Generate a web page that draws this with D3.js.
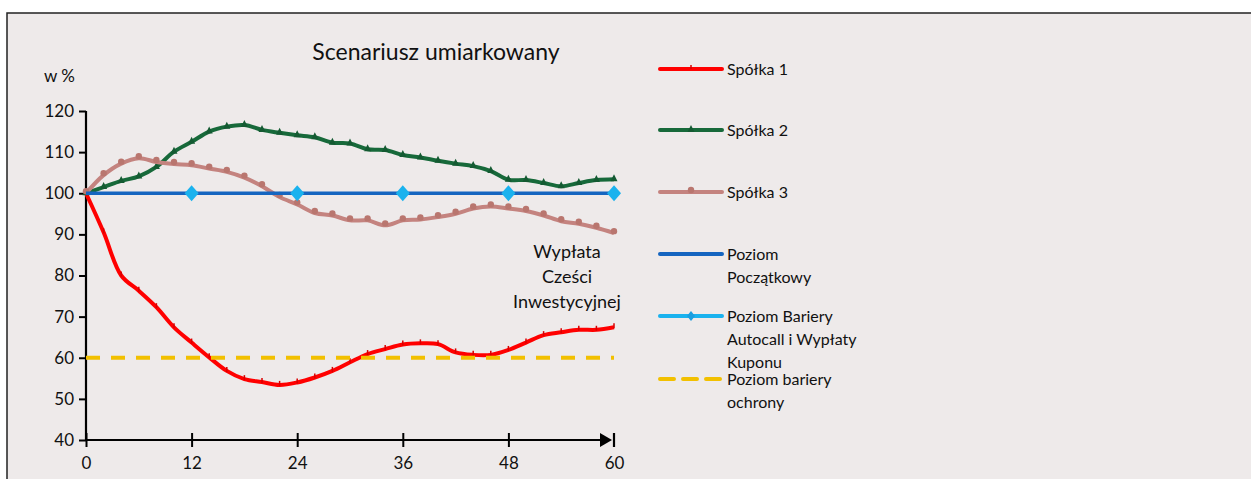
<!DOCTYPE html>
<html><head><meta charset="utf-8">
<script src="https://cdn.jsdelivr.net/npm/d3@7"></script>
<style>
html,body{margin:0;padding:0;background:#fff;}
svg{display:block;font-family:Lato,"Open Sans",sans-serif;}
</style></head><body>
<svg id="c" width="1251" height="479"></svg>
<script>
const months = [0,2,4,6,8,10,12,14,16,18,20,22,24,26,28,30,32,34,36,38,40,42,44,46,48,50,52,54,56,58,60];
const spolka1 = [100,90.5,80.0,76.3,72.3,67.4,63.7,60.1,56.8,54.8,54.1,53.4,54.0,55.2,56.8,58.9,60.9,62.1,63.2,63.5,63.3,61.3,60.7,60.7,61.9,63.7,65.5,66.2,66.8,66.8,67.4];
const spolka2 = [100,101.5,103.0,104.1,106.4,110.1,112.5,115.0,116.2,116.6,115.4,114.7,114.1,113.6,112.3,112.1,110.7,110.5,109.3,108.7,107.9,107.2,106.6,105.4,103.3,103.2,102.5,101.7,102.5,103.2,103.4];
const spolka3 = [100,104.4,107.2,108.5,107.6,107.1,106.8,106.0,105.2,103.8,101.7,99.1,97.3,95.2,94.6,93.4,93.4,92.2,93.4,93.6,94.2,95.0,96.3,96.8,96.3,95.7,94.6,93.2,92.6,91.6,90.3];
const poziomMonths = [0,60];
const poziomPoczatkowy = [100,100];
const barrierMonths = [12,24,36,48,60];
const barrierValues = [100,100,100,100,100];
const ochronaMonths = [0,60];
const ochronaValues = [60,60];
const xTicks = [0,12,24,36,48,60];
const yTicks = [40,50,60,70,80,90,100,110,120];
const title = "Scenariusz umiarkowany";
const yLabel = "w %";
const annotation = ["Wypłata","Cześci","Inwestycyjnej"];
const legendItems = [
  {key:"s1", lines:["Spółka 1"]},
  {key:"s2", lines:["Spółka 2"]},
  {key:"s3", lines:["Spółka 3"]},
  {key:"pp", lines:["Poziom","Początkowy"]},
  {key:"pb", lines:["Poziom Bariery","Autocall i Wypłaty","Kuponu"]},
  {key:"po", lines:["Poziom bariery","ochrony"]}
];

const colors = {s1:"#ff0000", s2:"#17693a", s3:"#c4837f", pp:"#1565c0", pb:"#1ab2ee", po:"#f2c000"};
const FONT = "Lato,'Open Sans',sans-serif";

const svg = d3.select("#c");
svg.append("rect").attr("x",7).attr("y",13).attr("width",1260).attr("height",480)
  .attr("fill","#eeeaea").attr("stroke","#222").attr("stroke-width",1.5);

const x = d3.scaleLinear().domain([0,60]).range([86,614]);
const y = d3.scaleLinear().domain([40,120]).range([440,111]);

svg.append("text").attr("x",436).attr("y",60).attr("text-anchor","middle")
  .attr("font-size",23).attr("fill","#111").text(title);
svg.append("text").attr("x",44).attr("y",82).attr("font-size",17).attr("fill","#111").text(yLabel);

const yAxis = d3.axisLeft(y).tickValues(yTicks).tickSize(7).tickPadding(5).tickFormat(d3.format("d"));
const gy = svg.append("g").attr("transform","translate(86,0)").call(yAxis);
gy.select(".domain").attr("stroke","#000").attr("stroke-width",2.2).attr("d",`M0,${y(120)}V${y(40)}`);
gy.selectAll(".tick line").attr("stroke","#000").attr("stroke-width",2);
gy.selectAll(".tick text").attr("font-size",17).attr("fill","#111").attr("font-family",FONT);

const xAxis = d3.axisBottom(x).tickValues(xTicks).tickSize(7).tickPadding(10).tickFormat(d3.format("d"));
const gx = svg.append("g").attr("transform",`translate(0,${y(40)})`).call(xAxis);
gx.select(".domain").attr("stroke","#000").attr("stroke-width",2.2).attr("d",`M${x(0)},0H${x(60)-4}`);
gx.selectAll(".tick line").attr("stroke","#000").attr("stroke-width",2).attr("y1",-7).attr("y2",7)
  .filter(d=>d===60).remove();
gx.selectAll(".tick text").attr("font-size",17).attr("fill","#111").attr("font-family",FONT);
const ax = x(60);
gx.append("path").attr("d",`M${ax-14},-7L${ax-2},0L${ax-14},7Z`).attr("fill","#000");
gx.append("line").attr("x1",ax).attr("x2",ax).attr("y1",-7).attr("y2",7).attr("stroke","#000").attr("stroke-width",2.2);

const line = d3.line().x(d=>x(d[0])).y(d=>y(d[1])).curve(d3.curveCatmullRom.alpha(0.5));
const straight = d3.line().x(d=>x(d[0])).y(d=>y(d[1]));
const zip = (a,b)=>a.map((v,i)=>[v,b[i]]);

const plot = svg.append("g");
const d1 = zip(months,spolka1);
plot.append("path").attr("d",line(d1)).attr("fill","none").attr("stroke",colors.s1).attr("stroke-width",4).attr("stroke-linejoin","round");
plot.selectAll(".m1").data(d1).join("line").attr("x1",d=>x(d[0])).attr("x2",d=>x(d[0]))
  .attr("y1",d=>y(d[1])-4).attr("y2",d=>y(d[1])+1).attr("stroke","#d80000").attr("stroke-width",1.5);
const d2 = zip(months,spolka2);
plot.append("path").attr("d",line(d2)).attr("fill","none").attr("stroke",colors.s2).attr("stroke-width",4).attr("stroke-linejoin","round");
plot.selectAll(".m2").data(d2).join("path")
  .attr("d",d=>`M${x(d[0])},${y(d[1])-5}L${x(d[0])+3.5},${y(d[1])+2}L${x(d[0])-3.5},${y(d[1])+2}Z`)
  .attr("fill","#145a32");
const d3s = zip(months,spolka3);
plot.append("path").attr("d",line(d3s)).attr("fill","none").attr("stroke",colors.s3).attr("stroke-width",4).attr("stroke-linejoin","round");
plot.selectAll(".m3").data(d3s).join("circle").attr("cx",d=>x(d[0])).attr("cy",d=>y(d[1])-2).attr("r",3.2)
  .attr("fill","#b9766f");
plot.append("path").attr("d",straight(zip(poziomMonths,poziomPoczatkowy))).attr("stroke",colors.pp).attr("stroke-width",3.5).attr("fill","none");
plot.selectAll(".m5").data(zip(barrierMonths,barrierValues)).join("path")
  .attr("d",d=>`M${x(d[0])},${y(d[1])-8}L${x(d[0])+7},${y(d[1])}L${x(d[0])},${y(d[1])+8}L${x(d[0])-7},${y(d[1])}Z`)
  .attr("fill",colors.pb);
plot.append("path").attr("d",straight(zip(ochronaMonths,ochronaValues))).attr("stroke",colors.po)
  .attr("stroke-width",4).attr("stroke-dasharray","14,11").attr("fill","none");

const ann = svg.append("text").attr("text-anchor","middle").attr("font-size",18).attr("fill","#111");
annotation.forEach((t,i)=>ann.append("tspan").attr("x",567).attr("y",258+i*25).text(t));

const legY = [69,130,192,254,316,379];
const lg = svg.append("g");
legendItems.forEach((it,i)=>{
  const cy = legY[i];
  const g = lg.append("g");
  const c = colors[it.key];
  if(it.key==="po"){
    g.append("line").attr("x1",660).attr("x2",722).attr("y1",cy).attr("y2",cy).attr("stroke",c)
      .attr("stroke-width",4).attr("stroke-dasharray","14,9").attr("stroke-linecap","round");
  } else {
    g.append("line").attr("x1",660).attr("x2",722).attr("y1",cy).attr("y2",cy).attr("stroke",c)
      .attr("stroke-width",4).attr("stroke-linecap","round");
  }
  if(it.key==="s1") g.append("line").attr("x1",691).attr("x2",691).attr("y1",cy-4).attr("y2",cy).attr("stroke","#d80000").attr("stroke-width",1.5);
  if(it.key==="s2") g.append("path").attr("d",`M691,${cy-5}L694.5,${cy+2}L687.5,${cy+2}Z`).attr("fill","#145a32");
  if(it.key==="s3") g.append("circle").attr("cx",691).attr("cy",cy-2).attr("r",3.2).attr("fill","#b9766f");
  if(it.key==="pb") g.append("path").attr("d",`M691,${cy-5}L695,${cy}L691,${cy+5}L687,${cy}Z`).attr("fill","#1a9ee0");
  const t = g.append("text").attr("font-size",16).attr("fill","#111");
  it.lines.forEach((s,j)=>t.append("tspan").attr("x",727).attr("y",cy+6+j*23).text(s));
});
</script>
</body></html>
